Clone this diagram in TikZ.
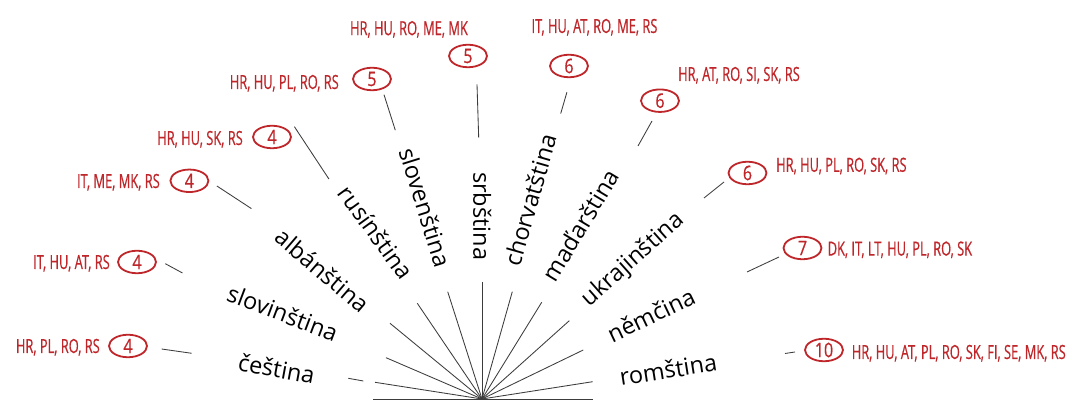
\documentclass[tikz,border=0pt]{standalone}
\usepackage{fontspec}
\setmainfont{Open Sans}
\newfontfamily\redfont[FakeStretch=0.66,FakeBold=0.5]{Open Sans}
\newfontfamily\numfont[FakeStretch=0.8,FakeBold=0.5]{Open Sans}
\usetikzlibrary{shapes.geometric}
\definecolor{cred}{RGB}{190,38,42}
\definecolor{cline}{RGB}{60,60,60}
\tikzset{
  spoke/.style={draw=cline, line width=0.85pt},
  tickline/.style={draw=cline, line width=0.85pt},
  lang/.style={font=\fontsize{23.5}{24}\selectfont, inner sep=0pt, text=black, anchor=mid},
  cnt/.style={ellipse, draw=cred, line width=1.8pt, minimum width=38pt, minimum height=22.5pt,
              inner sep=0pt, text=cred, font=\numfont\fontsize{20}{20}\selectfont},
  codes/.style={inner sep=0pt, text=cred, font=\redfont\fontsize{19.5}{20}\selectfont},
}
\begin{document}
\begin{tikzpicture}[x=1pt,y=1pt]
\useasboundingbox[fill=white] (0,0) rectangle (1077,403);
\coordinate (C) at (482,4);
% fan
\foreach \n/\x/\y in {a/373/4, b/375/20.7, c/386/45.3, d/390/79.7, e/417.3/99.7, f/447.7/111.3,
  g/482/120.7, h/512.3/111.3, i/541.7/100.7, j/569.3/82.3, k/583.3/53, l/592.7/21.3, m/593.3/4}
  {\coordinate (f\n) at (\x,\y);}
\foreach \n in {a,b,c,d,e,f,g,h,i,j,k,l,m} {\draw[spoke] (C) -- (f\n);}

% language labels
\node[lang, rotate=-10.5] (l1) at (275.5,28.3) {čeština};
\node[lang, rotate=-20.7] (l2) at (280.6,84.2) {slovinština};
\node[lang, rotate=-40.5] (l3) at (318.5,128.1) {albánština};
\node[lang, rotate=-54] (l4) at (371,167) {rusínština};
\node[lang, rotate=-72.7] (l5) at (419.3,193.7) {slovenština};
\node[lang, rotate=-90] (l6) at (476,186.8) {srbština};
\node[lang, rotate=74.1] (l7) at (535.8,201.3) {chorvatština};
\node[lang, rotate=58.9] (l8) at (585.8,174.7) {maďarština};
\node[lang, rotate=41.6] (l9) at (635.8,140.5) {ukrajinština};
\node[lang, rotate=25.5] (l10) at (653.6,82.5) {němčina};
\node[lang, rotate=9] (l11) at (669.1,27.4) {romština};

% count circles
\node[cnt] (c1) at (128,57) {4};
\node[cnt] (c2) at (137,141) {4};
\node[cnt] (c3) at (189.4,222.2) {4};
\node[cnt] (c4) at (272,266) {4};
\node[cnt] (c5) at (372,324) {5};
\node[cnt] (c6) at (468,347) {5};
\node[cnt] (c7) at (569,337) {6};
\node[cnt] (c8) at (660,302.3) {6};
\node[cnt] (c9) at (747.5,230) {6};
\node[cnt] (c10) at (802.5,155) {7};
\node[cnt] (c11) at (824,53) {10};

% country codes
\node[codes, anchor=base east] (k1) at (100,50) {HR, PL, RO, RS};
\node[codes, anchor=base east] (k2) at (110,134) {IT, HU, AT, RS};
\node[codes, anchor=base east] (k3) at (160,215) {IT, ME, MK, RS};
\node[codes, anchor=base east] (k4) at (243,258) {HR, HU, SK, RS};
\node[codes, anchor=base east] (k5) at (339,314) {HR, HU, PL, RO, RS};
\node[codes, anchor=base] (k6) at (409,367.8) {HR, HU, RO, ME, MK};
\node[codes, anchor=base] (k7) at (594.5,370) {IT, HU, AT, RO, ME, RS};
\node[codes, anchor=base west] (k8) at (678,322) {HR, AT, RO, SI, SK, RS};
\node[codes, anchor=base west] (k9) at (776,231.2) {HR, HU, PL, RO, SK, RS};
\node[codes, anchor=base west] (k10) at (827.5,147.4) {DK, IT, LT, HU, PL, RO, SK};
\node[codes, anchor=base west] (k11) at (851.6,44) {HR, HU, AT, PL, RO, SK, FI, SE, MK, RS};

% ticks between labels and circles
\coordinate (t1a) at (161.7,54);   \coordinate (t1b) at (191.7,49.7);
\coordinate (t1c) at (348.3,24.7); \coordinate (t1d) at (363.3,22);
\coordinate (t2a) at (165.3,139.3); \coordinate (t2b) at (182.5,130);
\coordinate (t3a) at (216.9,217);  \coordinate (t3b) at (251.4,194.4);
\coordinate (t4a) at (294.4,276.3); \coordinate (t4b) at (328.9,224);
\coordinate (t5a) at (384,308.3);  \coordinate (t5b) at (395.3,272.8);
\coordinate (t6a) at (477,318.6);  \coordinate (t6b) at (478.7,265.3);
\coordinate (t7a) at (566.9,310.7); \coordinate (t7b) at (560.7,289.4);
\coordinate (t8a) at (652,282);    \coordinate (t8b) at (638,257);
\coordinate (t9a) at (724,221);    \coordinate (t9b) at (704,205);
\coordinate (t10a) at (779,146);   \coordinate (t10b) at (747,131);
\coordinate (t11a) at (795,51);    \coordinate (t11b) at (785,49.5);
\foreach \p/\q in {t1a/t1b, t1c/t1d, t2a/t2b, t3a/t3b, t4a/t4b, t5a/t5b, t6a/t6b,
  t7a/t7b, t8a/t8b, t9a/t9b, t10a/t10b, t11a/t11b} {\draw[tickline] (\p) -- (\q);}
\end{tikzpicture}
\end{document}
